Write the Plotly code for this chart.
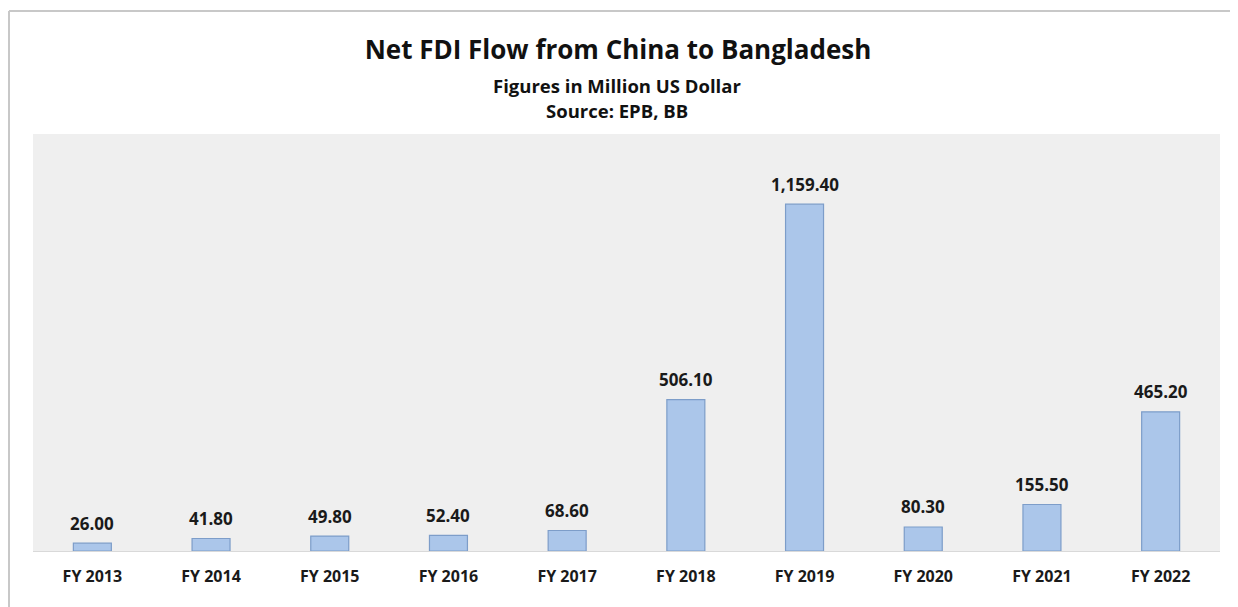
import plotly.graph_objects as go

categories = ["FY 2013", "FY 2014", "FY 2015", "FY 2016", "FY 2017",
              "FY 2018", "FY 2019", "FY 2020", "FY 2021", "FY 2022"]
values = [26.00, 41.80, 49.80, 52.40, 68.60, 506.10, 1159.40, 80.30, 155.50, 465.20]
labels = [f"{v:,.2f}" for v in values]

FONT = "Open Sans"
W, H = 1238, 607
ML, MR, MT, MB = 25, 26, 126, 64
plot_w = W - ML - MR
plot_h = H - MT - MB


def xpix(px):
    return (px - ML) / plot_w


def ypix(py):
    return (H - MB - py) / plot_h


fig = go.Figure()
fig.add_trace(go.Bar(
    x=categories, y=values,
    marker=dict(color="#abc6ea", line=dict(color="#7d9dc9", width=1.2)),
    hoverinfo="skip",
))

for c, v, t in zip(categories, values, labels):
    fig.add_annotation(x=c, y=v, text=f"<b>{t}</b>", showarrow=False,
                       yanchor="middle", yshift=20,
                       font=dict(family=FONT, size=17, color="#1a1a1a"))

fig.update_layout(
    width=W, height=H,
    margin=dict(l=ML, r=MR, t=MT, b=MB),
    paper_bgcolor="white",
    plot_bgcolor="#efefef",
    bargap=0.68,
    showlegend=False,
    title=dict(
        text="<b>Net FDI Flow from China to Bangladesh</b>",
        x=xpix(618 - 8), xanchor="center", xref="paper",
        y=1 - 42 / H, yanchor="middle", yref="container",
        font=dict(family=FONT, size=26, color="#111111"),
    ),
    xaxis=dict(
        showgrid=False, zeroline=False, showline=True,
        linecolor="#d9d9d9", linewidth=1,
        ticks="", tickfont=dict(family=FONT, size=16, color="#1a1a1a", weight="bold"),
        ticklabelstandoff=11,
    ),
    yaxis=dict(
        range=[0, 1394], showgrid=False, zeroline=False,
        showticklabels=False, showline=False, ticks="",
    ),
)

fig.add_annotation(text="<b>Figures in Million US Dollar</b>", x=xpix(617 - 8), y=ypix(77),
                   xref="paper", yref="paper", showarrow=False, yanchor="middle",
                   font=dict(family=FONT, size=18.5, color="#111111"))
fig.add_annotation(text="<b>Source: EPB, BB</b>", x=xpix(617 - 8), y=ypix(103),
                   xref="paper", yref="paper", showarrow=False, yanchor="middle",
                   font=dict(family=FONT, size=18.5, color="#111111"))

# outer chart frame (top and left edges)
fig.add_shape(type="line", xref="paper", yref="paper",
              x0=xpix(1), x1=xpix(W + 10), y0=ypix(3), y1=ypix(3),
              line=dict(color="#c8c8c8", width=2))
fig.add_shape(type="line", xref="paper", yref="paper",
              x0=xpix(1), x1=xpix(1), y0=ypix(3), y1=ypix(H + 10),
              line=dict(color="#c8c8c8", width=2))

fig.write_html("out.html")
